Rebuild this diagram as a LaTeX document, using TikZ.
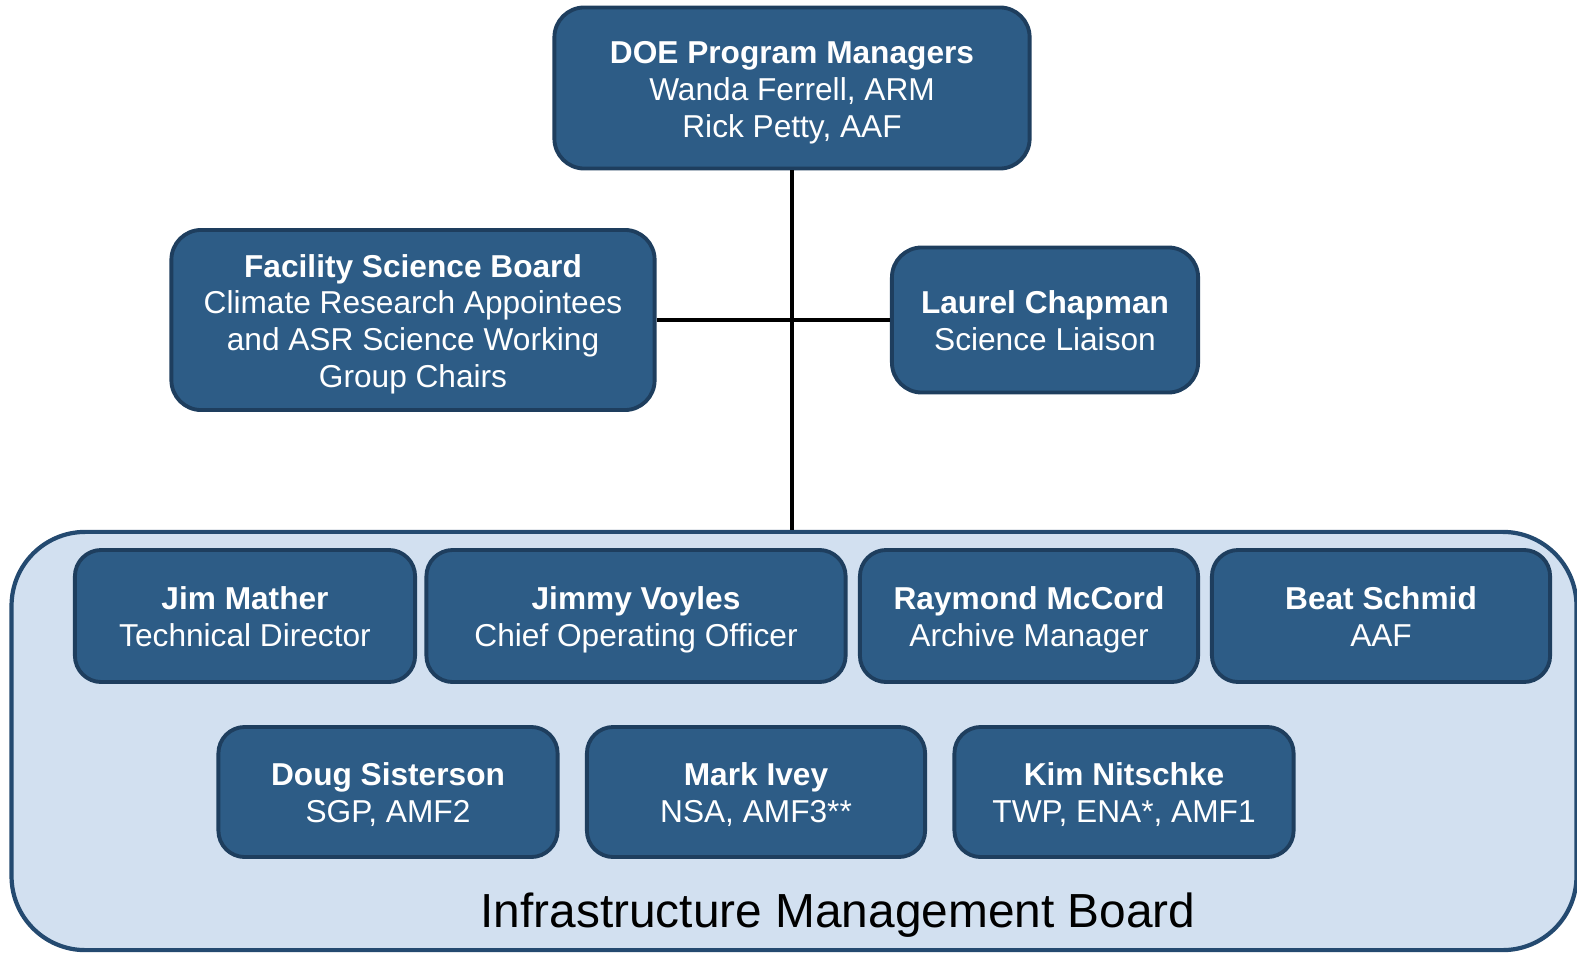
\documentclass[tikz,border=0pt]{standalone}
\usepackage{fontspec}
\setmainfont{Liberation Sans}
\definecolor{boxfill}{RGB}{45,92,134}
\definecolor{boxline}{RGB}{30,62,94}
\definecolor{boardfill}{RGB}{210,224,240}
\definecolor{boardline}{RGB}{36,74,112}
% taller strut on the first line pushes the text block a little down
\newcommand{\hdstrut}{\rule{0pt}{10.2pt}}
\begin{document}
\begin{tikzpicture}[x=0.01cm,y=-0.01cm,
	person/.style={draw=boxline, fill=boxfill, line width=1.1pt, rounded corners=7.5pt,
		text=white, align=center, inner sep=0pt, font=\fontsize{9}{10.5}\selectfont},
	board/.style={draw=boardline, fill=boardfill, line width=1.2pt, rounded corners=21pt},
	link/.style={line width=1.2pt}]
	\useasboundingbox (0,0) rectangle (1577,952);

	% Board frame
	\node[board, minimum width=15.64cm, minimum height=4.18cm] (imb) at (794,741) {};
	\node[font=\fontsize{13.6}{16}\selectfont] (imblabel) at (838,915) {Infrastructure Management Board};

	% Top of the chart
	\node[person, minimum width=4.75cm, minimum height=1.61cm, rounded corners=8.5pt] (doe) at (792,88)
		{\hdstrut\textbf{DOE Program Managers}\\Wanda Ferrell, ARM\\Rick Petty, AAF\strut};
	\node[person, minimum width=4.83cm, minimum height=1.8cm, rounded corners=8.5pt] (fsb) at (413,320)
		{\hdstrut\textbf{Facility Science Board}\\Climate Research Appointees\\and ASR Science Working\\Group Chairs\strut};
	\node[person, minimum width=3.06cm, minimum height=1.45cm, rounded corners=8.5pt] (liaison) at (1045,320)
		{\hdstrut\textbf{Laurel Chapman}\\Science Liaison\strut};

	% First row
	\node[person, minimum width=3.4cm, minimum height=1.32cm] (mather) at (245,616)
		{\hdstrut\textbf{Jim Mather}\\Technical Director\strut};
	\node[person, minimum width=4.19cm, minimum height=1.32cm] (voyles) at (636,616)
		{\hdstrut\textbf{Jimmy Voyles}\\Chief Operating Officer\strut};
	\node[person, minimum width=3.38cm, minimum height=1.32cm] (mccord) at (1029,616)
		{\hdstrut\textbf{Raymond McCord}\\Archive Manager\strut};
	\node[person, minimum width=3.38cm, minimum height=1.32cm] (schmid) at (1381,616)
		{\hdstrut\textbf{Beat Schmid}\\AAF\strut};

	% Second row
	\node[person, minimum width=3.39cm, minimum height=1.3cm] (sisterson) at (388,792)
		{\hdstrut\textbf{Doug Sisterson}\\SGP, AMF2\strut};
	\node[person, minimum width=3.38cm, minimum height=1.3cm] (ivey) at (756,792)
		{\hdstrut\textbf{Mark Ivey}\\NSA, AMF3**\strut};
	\node[person, minimum width=3.39cm, minimum height=1.3cm] (nitschke) at (1124,792)
		{\hdstrut\textbf{Kim Nitschke}\\TWP, ENA*, AMF1\strut};

	% Lines
	\draw[link] (doe.south) -- (doe.south |- imb.north);
	\draw[link] (fsb.east) -- (liaison.west);
\end{tikzpicture}
\end{document}
